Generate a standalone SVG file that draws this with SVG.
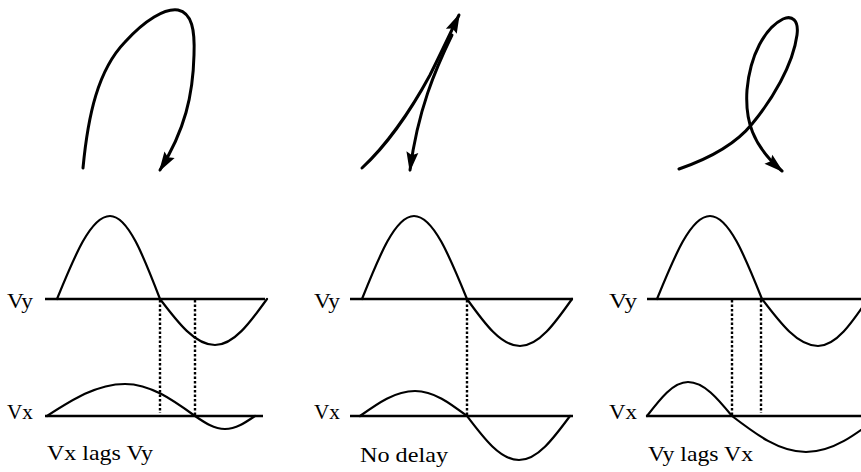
<svg xmlns="http://www.w3.org/2000/svg" width="861" height="472" viewBox="0 0 861 472">
<style>
.bg{fill:#fff}
.loop{fill:none;stroke:#000;stroke-width:3;stroke-linecap:round;stroke-linejoin:round}
.wave{fill:none;stroke:#000;stroke-width:2.2;stroke-linecap:round}
.axis{fill:none;stroke:#000;stroke-width:2.4}
.dash{fill:none;stroke:#000;stroke-width:2.4;stroke-dasharray:2.5 2}
.lbl{font-family:"Liberation Serif","Times New Roman",serif;font-size:20px;fill:#000}
.cap{font-family:"Liberation Serif","Times New Roman",serif;font-size:22px;fill:#000}
</style>
<defs>
<marker id="ah" markerUnits="userSpaceOnUse" markerWidth="24" markerHeight="16" refX="18" refY="6" orient="auto" overflow="visible">
<path d="M0,0 L20,6 L0,12 L3,6 z" fill="#000"/>
</marker>
</defs>
<rect class="bg" x="0" y="0" width="861" height="472"/>

<g id="loop-1">
<path class="loop" marker-end="url(#ah)" d="M83,168 C88,115 98,70 125,42 C145,20 165,8 178,10 C192,13 195,30 194,55 C193,95 185,130 160,170"/>
</g>
<g id="loop-2">
<path class="loop" marker-end="url(#ah)" d="M362,168 C385,147 410,112 430,75 C440,55 450,34 459,15"/>
<path class="loop" marker-end="url(#ah)" d="M452,35 C435,70 418,110 410,170"/>
</g>
<g id="loop-3">
<path class="loop" marker-end="url(#ah)" d="M679,169 C705,160 735,145 752,124 C772,100 793,65 797,35 C799,20 792,15 783,19 C765,28 750,55 747,90 C745,120 752,145 782,171"/>
</g>

<g id="panel-1">
<line class="axis" x1="45" y1="299" x2="265" y2="299"/>
<line class="axis" x1="45" y1="416" x2="263" y2="416"/>
<path class="wave" d="M57,299 C74.3,256.5 90.8,216 110,216 C128.1,216 143.7,256.5 160,299 C177.9,322.6 195.1,345 215,345 C233.8,345 250,322.6 267,299"/>
<path class="wave" d="M47,416 C72.4,399.6 96.8,384 125,384 C150.3,384 172.2,399.6 195,416 C204.8,422.7 214.1,429 225,429 C235.9,429 245.2,422.7 255,416"/>
<text class="lbl" x="7" y="308" textLength="26" lengthAdjust="spacingAndGlyphs">Vy</text>
<text class="lbl" x="7" y="419" textLength="26" lengthAdjust="spacingAndGlyphs">Vx</text>
<text class="cap" x="47" y="460" textLength="106" lengthAdjust="spacingAndGlyphs">Vx lags Vy</text>
</g>

<g id="panel-2">
<line class="axis" x1="350" y1="299" x2="573" y2="299"/>
<line class="axis" x1="350" y1="416" x2="573" y2="416"/>
<path class="wave" d="M362,299 C379,256.5 395.2,216 414,216 C433.2,216 449.7,256.5 467,299 C484.3,323.1 500.8,346 520,346 C538.8,346 555,323.1 572,299"/>
<path class="wave" d="M360,416 C377.9,403.2 395.1,391 415,391 C433.8,391 450,403.2 467,416 C484,438.5 500.2,460 519,460 C537.5,460 553.4,438.5 570,416"/>
<text class="lbl" x="314" y="308" textLength="26" lengthAdjust="spacingAndGlyphs">Vy</text>
<text class="lbl" x="314" y="419" textLength="26" lengthAdjust="spacingAndGlyphs">Vx</text>
<text class="cap" x="360" y="462" textLength="88" lengthAdjust="spacingAndGlyphs">No delay</text>
</g>

<g id="panel-3">
<line class="axis" x1="647" y1="299" x2="861" y2="299"/>
<line class="axis" x1="646" y1="416" x2="861" y2="416"/>
<path class="wave" d="M657,299 C674.3,256.5 690.8,216 710,216 C728.8,216 745,256.5 762,299 C780.3,323.1 797.7,346 818,346 C836.1,346 851.7,323.1 868,299"/>
<path class="wave" d="M647,416 C660.4,398.6 673.2,382 688,382 C703.9,382 717.7,398.6 732,416 C756.1,434.4 779.2,452 806,452 C832.8,452 855.9,434.4 880,416"/>
<text class="lbl" x="609" y="308" textLength="28" lengthAdjust="spacingAndGlyphs">Vy</text>
<text class="lbl" x="609" y="419" textLength="28" lengthAdjust="spacingAndGlyphs">Vx</text>
<text class="cap" x="648" y="461" textLength="105" lengthAdjust="spacingAndGlyphs">Vy lags Vx</text>
</g>

<g id="connectors">
<line class="dash" x1="160" y1="300" x2="160" y2="413"/>
<line class="dash" x1="195" y1="300" x2="195" y2="416"/>
<line class="dash" x1="467" y1="300" x2="467" y2="416"/>
<line class="dash" x1="732" y1="300" x2="732" y2="416"/>
<line class="dash" x1="761" y1="300" x2="761" y2="413"/>
</g>
</svg>
